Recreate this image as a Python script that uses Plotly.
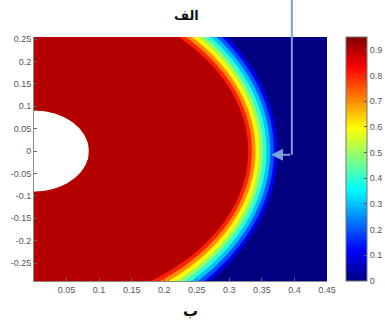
import numpy as np
import plotly.graph_objects as go

# Axis ticks
x_ticks = [0.05, 0.1, 0.15, 0.2, 0.25, 0.3, 0.35, 0.4, 0.45]
y_ticks = [-0.25, -0.2, -0.15, -0.1, -0.05, 0, 0.05, 0.1, 0.15, 0.2, 0.25]
cbar_ticks = [0, 0.1, 0.2, 0.3, 0.4, 0.5, 0.6, 0.7, 0.8, 0.9]

# Domain extents
x_range = [0.0, 0.45]
y_range = [-0.29, 0.2545]

# Saturation front: the trailing (s=0) and leading (s=1) edges are circles
# centred on the x axis; intermediate levels blend centre and radius.
front_c0, front_r0 = -0.027, 0.356   # trailing edge
front_c1, front_r1 = -0.085, 0.459   # leading edge
level_trailing, level_leading = 0.9, 0.1
sat_max = 0.95

# Contour levels (filled bands)
level_step = 0.1
level_first, level_last = 0.0, 0.9

# Borehole (excluded region)
hole_rx, hole_ry = 0.084, 0.09

# Callout marker position
callout_x, callout_y = 0.396, -0.008
callout_tip_x = 0.364

# MATLAB-style jet colormap anchors
jet_pos = [0.0, 0.125, 0.375, 0.625, 0.875, 1.0]
jet_rgb = [(0, 0, 128), (0, 0, 255), (0, 255, 255), (255, 255, 0), (255, 0, 0), (128, 0, 0)]
jet = [[p, "rgb(%d,%d,%d)" % c] for p, c in zip(jet_pos, jet_rgb)]


def jet_at(t):
    t = min(max(t, 0.0), 1.0)
    chans = [np.interp(t, jet_pos, [c[i] for c in jet_rgb]) for i in range(3)]
    return "rgb(%d,%d,%d)" % tuple(int(round(v)) for v in chans)


# Each filled band takes the colour of its lower level (contourf style).
# Plotly colours a band at its midpoint over [first - step/2, last + step/2].
levels = np.round(np.arange(level_first, level_last + level_step / 2, level_step), 6)
n_lev = len(levels)
band_scale = [[0.0, jet_at(0.0)]]
for k, lv in enumerate(levels):
    band_scale.append([(k + 1) / n_lev, jet_at(lv / sat_max)])

xs = np.linspace(x_range[0], x_range[1], 451)
ys = np.linspace(y_range[0], y_range[1], 546)
X, Y = np.meshgrid(xs, ys)

# Solve for the front coordinate s at each grid point
dc, dr = front_c1 - front_c0, front_r1 - front_r0
U = X - front_c0
A = dc ** 2 - dr ** 2
B = -2 * U * dc - 2 * front_r0 * dr
C = U ** 2 + Y ** 2 - front_r0 ** 2
D = B ** 2 - 4 * A * C
S = np.where(D >= 0, (-B - np.sqrt(np.clip(D, 0, None))) / (2 * A), -10.0)
Z = np.clip(level_trailing - (level_trailing - level_leading) * S, 0, sat_max)
Z[(X / hole_rx) ** 2 + (Y / hole_ry) ** 2 < 1] = np.nan

fig = go.Figure()

fig.add_trace(go.Contour(
    x=xs, y=ys, z=Z,
    colorscale=band_scale,
    contours=dict(start=level_first, end=level_last, size=level_step,
                  coloring="fill", showlines=False),
    line=dict(width=0),
    showscale=False,
    connectgaps=False,
    hoverinfo="skip",
))

# Borehole drawn as a white disc
t = np.linspace(-np.pi / 2, np.pi / 2, 200)
fig.add_trace(go.Scatter(
    x=hole_rx * np.cos(t), y=hole_ry * np.sin(t),
    fill="toself", fillcolor="white", mode="lines",
    line=dict(color="white", width=0), hoverinfo="skip", showlegend=False,
))

# Continuous colorbar
fig.add_trace(go.Scatter(
    x=[None], y=[None], mode="markers",
    marker=dict(
        color=[0], colorscale=jet, cmin=0, cmax=sat_max, showscale=True,
        colorbar=dict(
            x=1.066, xanchor="left", y=0.5, yanchor="middle",
            len=1.0, lenmode="fraction", thickness=21,
            outlinewidth=1, outlinecolor="#777",
            tickvals=cbar_ticks, ticktext=[f"{v:g}" for v in cbar_ticks],
            ticks="inside", ticklen=3, tickcolor="#555",
            tickfont=dict(family="Liberation Sans", size=9, color="#555"),
            xpad=0, ypad=0,
        ),
    ),
    showlegend=False, hoverinfo="skip",
))

# Callout: vertical leader from the top, then arrow pointing at the front
py_callout = (callout_y - y_range[0]) / (y_range[1] - y_range[0])
fig.add_shape(type="line", xref="x", yref="paper",
              x0=callout_x, x1=callout_x, y0=1.2, y1=py_callout,
              line=dict(color="#7aa0d4", width=2))
fig.add_annotation(x=callout_tip_x, y=callout_y, ax=callout_x, ay=callout_y,
                   xref="x", yref="y", axref="x", ayref="y",
                   text="", showarrow=True, arrowhead=2, arrowsize=1.2,
                   arrowwidth=2, arrowcolor="#7aa0d4")

# Title and x label
fig.add_annotation(text="<b>الف</b>", xref="paper", yref="paper", x=0.52, y=1.0,
                   yshift=22, showarrow=False, xanchor="center", yanchor="middle",
                   font=dict(family="DejaVu Sans", size=13, color="#111"))
fig.add_annotation(text="<b>ب</b>", xref="paper", yref="paper", x=0.535, y=0.0,
                   yshift=-30, showarrow=False, xanchor="center", yanchor="middle",
                   font=dict(family="DejaVu Sans", size=15, color="#111"))

axis_common = dict(
    showgrid=False, zeroline=False, ticks="inside", ticklen=3, tickcolor="#666",
    showline=True, linecolor="#888", linewidth=1, mirror=False,
    tickfont=dict(family="Liberation Sans", size=9, color="#555"),
)
fig.update_xaxes(range=x_range, tickvals=x_ticks,
                 ticktext=[f"{v:g}" for v in x_ticks], **axis_common)
fig.update_yaxes(range=y_range, tickvals=y_ticks,
                 ticktext=[f"{v:g}" for v in y_ticks], **axis_common)

fig.update_layout(
    width=385, height=322,
    margin=dict(l=34, r=58, t=37, b=41, autoexpand=False),
    paper_bgcolor="white", plot_bgcolor="white",
    showlegend=False,
)

fig.write_html("out.html")
